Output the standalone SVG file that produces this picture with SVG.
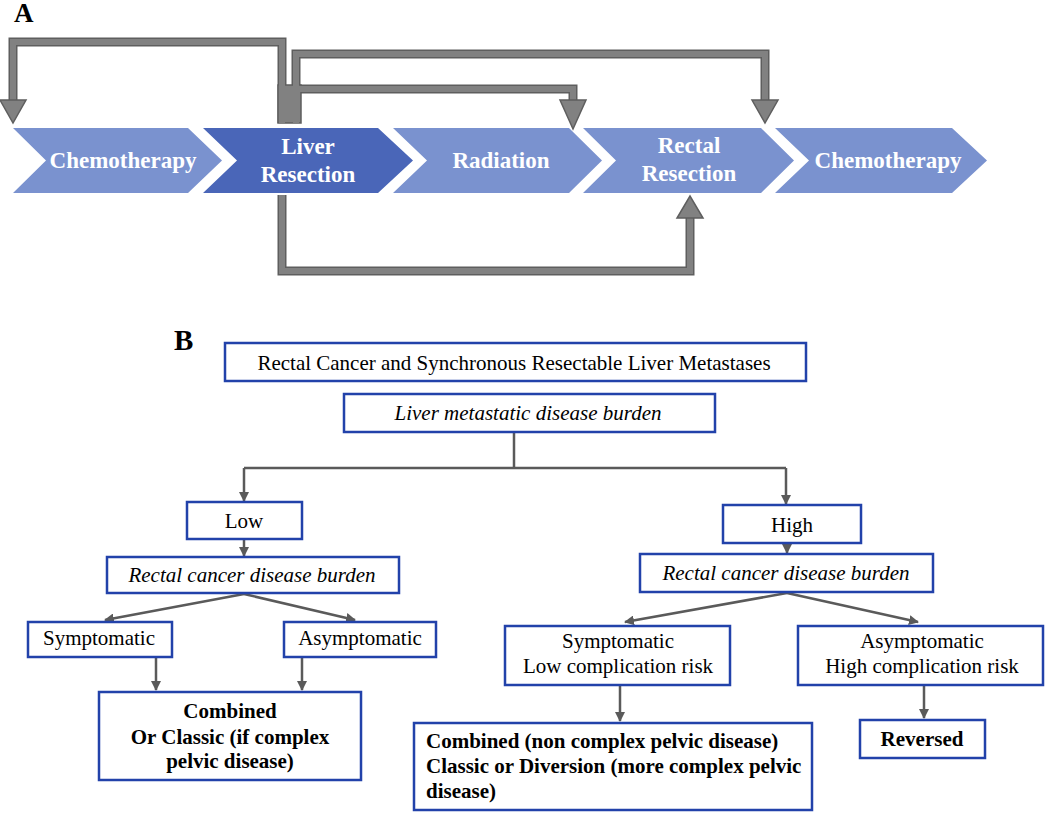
<svg xmlns="http://www.w3.org/2000/svg" width="1050" height="813" viewBox="0 0 1050 813">
<defs>
<style>
.lbl{font-family:"Liberation Serif","Times New Roman",serif;font-weight:bold;fill:#000}
.chev-l{fill:#7a92cf}
.chev-d{fill:#4a66b8}
.ct{font-family:"Liberation Serif","Times New Roman",serif;font-weight:bold;font-size:23px;fill:#fff;text-anchor:middle}
.pipe-o{fill:none;stroke:#5e5e5e;stroke-width:9;stroke-linejoin:miter}
.pipe-i{fill:none;stroke:#818181;stroke-width:6;stroke-linejoin:miter}
.head{fill:#818181;stroke:#5e5e5e;stroke-width:1.5}
.box{fill:#fff;stroke:#2242aa;stroke-width:2.5}
.t{font-family:"Liberation Serif","Times New Roman",serif;font-size:21px;fill:#000;text-anchor:middle}
.i{font-style:italic}
.b{font-weight:bold}
.s{text-anchor:start}
.con{fill:none;stroke:#5a5a5a;stroke-width:2.5}
</style>
<marker id="ah" viewBox="0 0 10 10" refX="9" refY="5" markerWidth="10" markerHeight="10" markerUnits="userSpaceOnUse" orient="auto">
<path d="M0,0 L10,5 L0,10 z" fill="#5a5a5a"/>
</marker>
</defs>
<rect width="1050" height="813" fill="#fff"/>

<text class="lbl" x="14" y="22" font-size="27">A</text>
<text class="lbl" x="174" y="350" font-size="29">B</text>

<g id="chemo1"><path class="chev-l" d="M13,128 H188 L222,160.5 L188,193 H13 L46,160.5 z"/><text class="ct" x="123" y="168">Chemotherapy</text></g>
<g id="liver"><path class="chev-d" d="M203,128 H378 L413,160.5 L378,193 H203 L237,160.5 z"/><text class="ct" x="308" y="154">Liver</text><text class="ct" x="308" y="182">Resection</text></g>
<g id="radiation"><path class="chev-l" d="M393,128 H569 L602,160.5 L569,193 H393 L427,160.5 z"/><text class="ct" x="501" y="168">Radiation</text></g>
<g id="rectal"><path class="chev-l" d="M583,128 H761 L794,160.5 L761,193 H583 L616,160.5 z"/><text class="ct" x="689" y="153">Rectal</text><text class="ct" x="689" y="181">Resection</text></g>
<g id="chemo2"><path class="chev-l" d="M775,128 H952 L987,160.5 L952,193 H775 L809,160.5 z"/><text class="ct" x="888" y="168">Chemotherapy</text></g>

<g id="connectors-a">
<path class="pipe-o" d="M282,123 V42 H13 V101"/>
<path class="pipe-o" d="M296,123 V54 H765 V101"/>
<path class="pipe-o" d="M296,89 H573 V101"/>
<path class="pipe-o" d="M282,195 V271 H690 V217"/>
<rect x="278" y="85" width="23" height="38" fill="#818181" stroke="#5e5e5e" stroke-width="1.5"/>
<path class="pipe-i" d="M282,123 V42 H13 V101"/>
<path class="pipe-i" d="M296,123 V54 H765 V101"/>
<path class="pipe-i" d="M296,89 H573 V101"/>
<path class="pipe-i" d="M282,195 V271 H690 V217"/>
<rect x="279" y="86" width="21" height="36" fill="#818181"/>
<polygon class="head" points="0,100 26,100 13,123"/>
<polygon class="head" points="752,100 778,100 765,123"/>
<polygon class="head" points="560,100 586,100 573,129"/>
<polygon class="head" points="677,218 703,218 690,196"/>
</g>

<g id="connectors-b">
<path class="con" d="M514,432 V468"/>
<path class="con" d="M244,468 H786"/>
<path class="con" d="M244,468 V501" marker-end="url(#ah)"/>
<path class="con" d="M786,468 V504" marker-end="url(#ah)"/>
<path class="con" d="M244,539 V556" marker-end="url(#ah)"/>
<path class="con" d="M244,594 L105,620" marker-end="url(#ah)"/>
<path class="con" d="M244,594 L355,620" marker-end="url(#ah)"/>
<path class="con" d="M156,657 V690" marker-end="url(#ah)"/>
<path class="con" d="M302,657 V690" marker-end="url(#ah)"/>
<path class="con" d="M787,543 V553" marker-end="url(#ah)"/>
<path class="con" d="M787,593 L625,622" marker-end="url(#ah)"/>
<path class="con" d="M787,593 L918,622" marker-end="url(#ah)"/>
<path class="con" d="M620,685 V721" marker-end="url(#ah)"/>
<path class="con" d="M924,685 V718" marker-end="url(#ah)"/>
</g>

<g id="root"><rect class="box" x="225" y="343" width="581" height="38"/><text class="t" x="514" y="370">Rectal Cancer and Synchronous Resectable Liver Metastases</text></g>
<g id="liver-burden"><rect class="box" x="344" y="394" width="371" height="38"/><text class="t i" x="528" y="420">Liver metastatic disease burden</text></g>
<g id="low"><rect class="box" x="187" y="502" width="115" height="37"/><text class="t" x="244" y="528">Low</text></g>
<g id="high"><rect class="box" x="723" y="505" width="138" height="38"/><text class="t" x="792" y="532">High</text></g>
<g id="rcdb-left"><rect class="box" x="107" y="557" width="292" height="36"/><text class="t i" x="252" y="582">Rectal cancer disease burden</text></g>
<g id="rcdb-right"><rect class="box" x="640" y="554" width="293" height="38"/><text class="t i" x="786" y="580">Rectal cancer disease burden</text></g>
<g id="sym-left"><rect class="box" x="28" y="622" width="144" height="35"/><text class="t" x="99" y="645">Symptomatic</text></g>
<g id="asym-left"><rect class="box" x="284" y="622" width="152" height="35"/><text class="t" x="360" y="645">Asymptomatic</text></g>
<g id="sym-right"><rect class="box" x="505" y="626" width="225" height="59"/><text class="t" x="618" y="648">Symptomatic</text><text class="t" x="618" y="673">Low complication risk</text></g>
<g id="asym-right"><rect class="box" x="798" y="626" width="245" height="59"/><text class="t" x="922" y="648">Asymptomatic</text><text class="t" x="922" y="673">High complication risk</text></g>
<g id="combined-left"><rect class="box" x="99" y="692" width="262" height="88"/><text class="t b" x="230" y="718">Combined</text><text class="t b" x="230" y="744">Or Classic (if complex</text><text class="t b" x="230" y="768">pelvic disease)</text></g>
<g id="combined-right"><rect class="box" x="414" y="723" width="398" height="87"/><text class="t b s" x="426" y="748">Combined (non complex pelvic disease)</text><text class="t b s" x="426" y="773">Classic or Diversion (more complex pelvic</text><text class="t b s" x="426" y="798">disease)</text></g>
<g id="reversed"><rect class="box" x="860" y="720" width="125" height="38"/><text class="t b" x="922" y="746">Reversed</text></g>
</svg>
